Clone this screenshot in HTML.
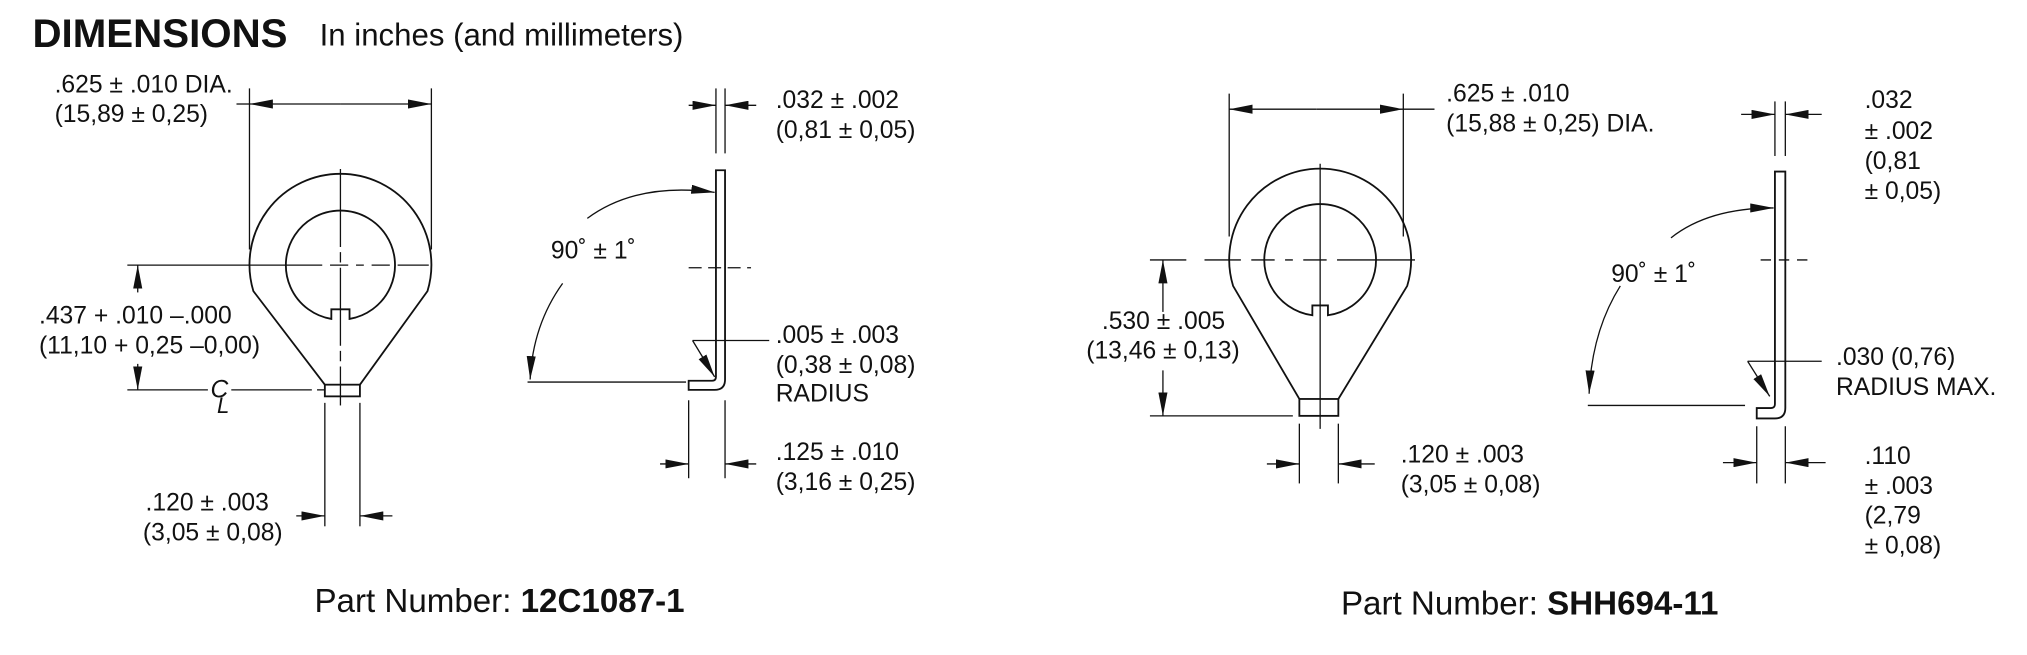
<!DOCTYPE html>
<html><head><meta charset="utf-8"><style>
html,body{margin:0;padding:0;background:#fff;}
svg{display:block;}
text{font-family:"Liberation Sans",Arial,sans-serif;fill:#111;font-size:19px;}
.l{stroke:#111;stroke-width:1.4;fill:none;}
.t{stroke:#111;stroke-width:1;fill:none;}
</style></head><body>
<svg width="2027" height="655" viewBox="0 0 1560 504" xmlns="http://www.w3.org/2000/svg">
<defs>
<marker id="a" viewBox="0 0 10 10" refX="10" refY="5" markerWidth="18" markerHeight="7" markerUnits="userSpaceOnUse" orient="auto" preserveAspectRatio="none"><path d="M0,0 L10,5 L0,10 Z" fill="#111"/></marker>
</defs>
<text x="25" y="36" style="font-size:31px;font-weight:bold">DIMENSIONS</text>
<text x="246" y="35" style="font-size:24px">In inches (and millimeters)</text>

<!-- LEFT RING -->
<path class="l" d="M250,296 L195,224 A70,70 0 1 1 329,224 L277,296"/>
<path class="l" d="M255,245.4 A42,42 0 1 1 269,245.4 L269,238 L255,238 Z"/>
<rect class="l" x="250" y="296" width="27" height="9"/>
<line class="t" x1="262" y1="130" x2="262" y2="312" stroke-dasharray="60,4,8,4"/>
<line class="t" x1="98" y1="204" x2="330" y2="204" stroke-dasharray="150,6,14,6,6,6,14,6,60"/>
<line class="t" x1="192" y1="68" x2="192" y2="192"/>
<line class="t" x1="332" y1="68" x2="332" y2="192"/>
<line class="t" x1="182" y1="80" x2="192" y2="80"/>
<line class="t" x1="262" y1="80" x2="192" y2="80" marker-end="url(#a)"/>
<line class="t" x1="262" y1="80" x2="332" y2="80" marker-end="url(#a)"/>
<text x="42" y="71">.625 ± .010 DIA.</text>
<text x="42" y="94">(15,89 ± 0,25)</text>
<line class="t" x1="106" y1="225" x2="106" y2="204" marker-end="url(#a)"/>
<line class="t" x1="106" y1="280" x2="106" y2="300" marker-end="url(#a)"/>
<line class="t" x1="98" y1="300" x2="160" y2="300"/>
<line class="t" x1="178" y1="300" x2="240" y2="300"/>
<line class="t" x1="244" y1="300" x2="250" y2="300"/>
<text x="30" y="249">.437 + .010 –.000</text>
<text x="30" y="272">(11,10 + 0,25 –0,00)</text>
<text x="162" y="306" style="font-size:19px;font-style:italic">C</text>
<text x="167" y="318" style="font-size:17px;font-style:italic">L</text>
<line class="t" x1="250" y1="310" x2="250" y2="405"/>
<line class="t" x1="277" y1="310" x2="277" y2="405"/>
<line class="t" x1="228" y1="397" x2="250" y2="397" marker-end="url(#a)"/>
<line class="t" x1="302" y1="397" x2="277" y2="397" marker-end="url(#a)"/>
<text x="112" y="393">.120 ± .003</text>
<text x="110" y="416">(3,05 ± 0,08)</text>

<!-- LEFT SIDE VIEW -->
<path class="l" d="M551,131 L558,131 L558,292 Q558,300 550,300 L530,300 L530,293 L548,293 Q551,293 551,290 Z"/>
<line class="t" x1="530" y1="206" x2="578" y2="206" stroke-dasharray="10,5"/>
<line class="t" x1="551" y1="68" x2="551" y2="118"/>
<line class="t" x1="558" y1="68" x2="558" y2="118"/>
<line class="t" x1="530" y1="81" x2="551" y2="81" marker-end="url(#a)"/>
<line class="t" x1="582" y1="81" x2="558" y2="81" marker-end="url(#a)"/>
<text x="597" y="83">.032 ± .002</text>
<text x="597" y="106">(0,81 ± 0,05)</text>
<path class="t" d="M452,168 Q490,140 550,148" marker-end="url(#a)"/>
<path class="t" d="M433,218 Q410,250 408,292" marker-end="url(#a)"/>
<line class="t" x1="406" y1="294" x2="528" y2="294"/>
<text x="424" y="199">90˚ ± 1˚</text>
<line class="t" x1="533" y1="262" x2="592" y2="262"/>
<line class="t" x1="533" y1="262" x2="550" y2="290" marker-end="url(#a)"/>
<text x="597" y="264">.005 ± .003</text>
<text x="597" y="287">(0,38 ± 0,08)</text>
<text x="597" y="309">RADIUS</text>
<line class="t" x1="530" y1="308" x2="530" y2="368"/>
<line class="t" x1="558" y1="308" x2="558" y2="368"/>
<line class="t" x1="508" y1="357" x2="530" y2="357" marker-end="url(#a)"/>
<line class="t" x1="582" y1="357" x2="558" y2="357" marker-end="url(#a)"/>
<text x="597" y="354">.125 ± .010</text>
<text x="597" y="377">(3,16 ± 0,25)</text>
<text x="242" y="471" style="font-size:25.5px">Part Number: <tspan style="font-weight:bold">12C1087-1</tspan></text>

<!-- RIGHT RING -->
<path class="l" d="M1000,307 L949,220 A70,70 0 1 1 1083,220 L1030,307"/>
<path class="l" d="M1010,242.6 A43,43 0 1 1 1022,242.6 L1022,235 L1010,235 Z"/>
<rect class="l" x="1000" y="307" width="30" height="13"/>
<line class="t" x1="1016" y1="126" x2="1016" y2="330"/>
<line class="t" x1="885" y1="200" x2="1096" y2="200" stroke-dasharray="28,14,28,8,18,8,6,8,18,8,60"/>
<line class="t" x1="946" y1="72" x2="946" y2="182"/>
<line class="t" x1="1080" y1="72" x2="1080" y2="182"/>
<line class="t" x1="1013" y1="84" x2="946" y2="84" marker-end="url(#a)"/>
<line class="t" x1="1013" y1="84" x2="1080" y2="84" marker-end="url(#a)"/>
<line class="t" x1="1080" y1="84" x2="1104" y2="84"/>
<text x="1113" y="78">.625 ± .010</text>
<text x="1113" y="101">(15,88 ± 0,25) DIA.</text>
<line class="t" x1="895" y1="240" x2="895" y2="200" marker-end="url(#a)"/>
<line class="t" x1="895" y1="285" x2="895" y2="320" marker-end="url(#a)"/>
<line class="t" x1="885" y1="320" x2="995" y2="320"/>
<text x="848" y="253">.530 ± .005</text>
<text x="836" y="276">(13,46 ± 0,13)</text>
<line class="t" x1="1000" y1="326" x2="1000" y2="372"/>
<line class="t" x1="1030" y1="326" x2="1030" y2="372"/>
<line class="t" x1="975" y1="357" x2="1000" y2="357" marker-end="url(#a)"/>
<line class="t" x1="1058" y1="357" x2="1030" y2="357" marker-end="url(#a)"/>
<text x="1078" y="356">.120 ± .003</text>
<text x="1078" y="379">(3,05 ± 0,08)</text>

<!-- RIGHT SIDE VIEW -->
<path class="l" d="M1366,132 L1374,132 L1374,314 Q1374,322 1366,322 L1352,322 L1352,314 L1363,314 Q1366,314 1366,311 Z"/>
<line class="t" x1="1355" y1="200" x2="1392" y2="200" stroke-dasharray="8,6"/>
<line class="t" x1="1366" y1="78" x2="1366" y2="120"/>
<line class="t" x1="1374" y1="78" x2="1374" y2="120"/>
<line class="t" x1="1340" y1="88" x2="1366" y2="88" marker-end="url(#a)"/>
<line class="t" x1="1402" y1="88" x2="1374" y2="88" marker-end="url(#a)"/>
<text x="1435" y="83">.032</text>
<text x="1435" y="107">± .002</text>
<text x="1435" y="130">(0,81</text>
<text x="1435" y="153">± 0,05)</text>
<path class="t" d="M1286,183 Q1315,160 1365,160" marker-end="url(#a)"/>
<path class="t" d="M1247,220 Q1225,255 1223,303" marker-end="url(#a)"/>
<line class="t" x1="1222" y1="312" x2="1343" y2="312"/>
<text x="1240" y="217">90˚ ± 1˚</text>
<line class="t" x1="1345" y1="278" x2="1402" y2="278"/>
<line class="t" x1="1345" y1="278" x2="1362" y2="305" marker-end="url(#a)"/>
<text x="1413" y="281">.030 (0,76)</text>
<text x="1413" y="304">RADIUS MAX.</text>
<line class="t" x1="1352" y1="328" x2="1352" y2="372"/>
<line class="t" x1="1374" y1="328" x2="1374" y2="372"/>
<line class="t" x1="1326" y1="356" x2="1352" y2="356" marker-end="url(#a)"/>
<line class="t" x1="1405" y1="356" x2="1374" y2="356" marker-end="url(#a)"/>
<text x="1435" y="357">.110</text>
<text x="1435" y="380">± .003</text>
<text x="1435" y="403">(2,79</text>
<text x="1435" y="426">± 0,08)</text>
<text x="1032" y="473" style="font-size:25.5px">Part Number: <tspan style="font-weight:bold">SHH694-11</tspan></text>
</svg>
</body></html>
